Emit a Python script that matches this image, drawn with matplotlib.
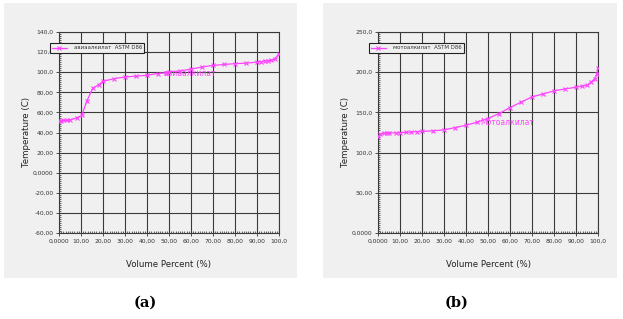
import matplotlib
matplotlib.use("Agg")
import matplotlib.pyplot as plt
from matplotlib.patches import Rectangle
from matplotlib.ticker import MultipleLocator, FixedLocator, FixedFormatter

plt.rcParams['font.family'] = ['DejaVu Sans']

# ---- data ----
x_a = [0, 1, 2, 3.5, 5, 8, 10.3, 12.6, 15.3, 18, 20, 25, 30, 35, 40, 45, 48.5, 50, 55, 60, 65, 70, 75,
       80, 85, 90, 92, 93.5, 95, 96.5, 98, 100]
y_a = [51, 51.5, 52, 52, 52.5, 54.5, 57, 71, 84, 87.5, 91, 93.5, 95.3, 96, 97, 98.7, 99.3, 100.5, 101.3,
       103, 105.2, 106.7, 107.7, 108.5, 109, 110, 110.5, 111.2, 111.5, 112, 113, 118.5]
x_b = [0, 1, 2.5, 4, 5, 8, 10, 12.5, 15, 17.5, 20, 25, 30, 35, 40, 45, 50, 55, 60, 65, 70, 75, 80, 85,
       90, 92.5, 95, 97, 98.5, 99.5, 100]
y_b = [119.5, 123, 124, 124.5, 124.5, 124.5, 124.5, 125.2, 125.6, 126, 126.4, 127, 128.3, 131, 134, 137.8,
       142.4, 148.6, 156, 162.7, 169.3, 173, 176.7, 179.2, 181.3, 182.5, 183.8, 188, 192, 198, 205]

x_ticks = [0, 10, 20, 30, 40, 50, 60, 70, 80, 90, 100]
x_tick_labels = ["0,0000", "10,00", "20,00", "30,00", "40,00", "50,00", "60,00", "70,00", "80,00", "90,00", "100,0"]
y_ticks_a = [-60, -40, -20, 0, 20, 40, 60, 80, 100, 120, 140]
y_tick_labels_a = ["-60,00", "-40,00", "-20,00", "0,0000", "20,00", "40,00", "60,00", "80,00", "100,0", "120,0", "140,0"]
y_ticks_b = [0, 50, 100, 150, 200, 250]
y_tick_labels_b = ["0,0000", "50,00", "100,0", "150,0", "200,0", "250,0"]

legend_a = "авиаалкилат  ASTM D86"
legend_b = "мотоалкилат  ASTM D86"
curve_label_a = "авиаалкилат"
curve_label_b = "Мотоалкилат"

W, H = 623, 319
fig = plt.figure(figsize=(W / 100, H / 100), dpi=100)
fig.patch.set_facecolor('white')

BG = '#f0f0f0'
LINE = '#ff44ff'

def px(x0, y0, x1, y1):
    return [x0 / W, 1 - y1 / H, (x1 - x0) / W, (y1 - y0) / H]

for (x0, x1) in [(4, 297), (323, 617)]:
    r = px(x0, 3, x1, 278)
    fig.patches.append(Rectangle((r[0], r[1]), r[2], r[3], transform=fig.transFigure,
                                 facecolor=BG, edgecolor='none', zorder=-10))

def setup(ax, xd, yd, yticks, ylabels, ylim, minor_y, leg, clabel, clabel_xy, leg_box, ylabel_x):
    ax.set_zorder(5)
    ax.set_facecolor(BG)
    ax.plot(xd, yd, color=LINE, lw=0.9, marker='x', ms=3.5, mew=0.8, label=leg, zorder=3)
    ax.set_xlim(0, 100)
    ax.set_ylim(*ylim)
    ax.xaxis.set_major_locator(FixedLocator(x_ticks))
    ax.xaxis.set_major_formatter(FixedFormatter(x_tick_labels))
    ax.yaxis.set_major_locator(FixedLocator(yticks))
    ax.yaxis.set_major_formatter(FixedFormatter(ylabels))
    ax.xaxis.set_minor_locator(MultipleLocator(1))
    ax.yaxis.set_minor_locator(MultipleLocator(minor_y))
    ax.tick_params(which='major', labelsize=4.3, length=2.5, width=0.6, color='#333333',
                   labelcolor='#333333', pad=1.5)
    ax.tick_params(which='minor', length=1.5, width=0.5, color='#333333', direction='in')
    ax.grid(True, which='major', color='#3a3a3a', lw=0.8)
    for s in ax.spines.values():
        s.set_color('#3a3a3a')
        s.set_linewidth(0.8)
    ax.set_xlabel("Volume Percent (%)", fontsize=6.2, color='#222222', labelpad=12)
    ax.text(clabel_xy[0], clabel_xy[1], clabel, color=LINE, fontsize=5.5, va='center', ha='left', zorder=4)
    fig.text(ylabel_x / W, 1 - 132 / H, "Temperature (C)", rotation=90, fontsize=6.2,
             color='#222222', ha='center', va='center')
    lg = ax.legend(loc='upper left', bbox_to_anchor=(leg_box[0] / W, 1 - leg_box[1] / H),
                   bbox_transform=fig.transFigure, fontsize=3.9, frameon=True, fancybox=False,
                   borderpad=0.45, handlelength=2.6, borderaxespad=0, handletextpad=1.3,
                   markerscale=0.9)
    lg.get_frame().set_facecolor(BG)
    lg.get_frame().set_edgecolor('#222222')
    lg.get_frame().set_linewidth(0.8)
    lg.get_frame().set_alpha(1)
    for t in lg.get_texts():
        t.set_color('#333333')

ax1 = fig.add_axes(px(59, 32, 279, 233))
setup(ax1, x_a, y_a, y_ticks_a, y_tick_labels_a, (-60, 140), 2, legend_a, curve_label_a,
      (47.5, 98.5), (50, 43), 27)
ax2 = fig.add_axes(px(378, 32, 598, 233))
setup(ax2, x_b, y_b, y_ticks_b, y_tick_labels_b, (0, 250), 2.5, legend_b, curve_label_b,
      (46.5, 137), (369, 43), 345)

fig.text(145 / W, 1 - 303 / H, "(a)", fontsize=10.5, fontweight='bold', family='DejaVu Serif',
         ha='center', va='center')
fig.text(457 / W, 1 - 303 / H, "(b)", fontsize=10.5, fontweight='bold', family='DejaVu Serif',
         ha='center', va='center')

fig.savefig("out.png", dpi=100)
